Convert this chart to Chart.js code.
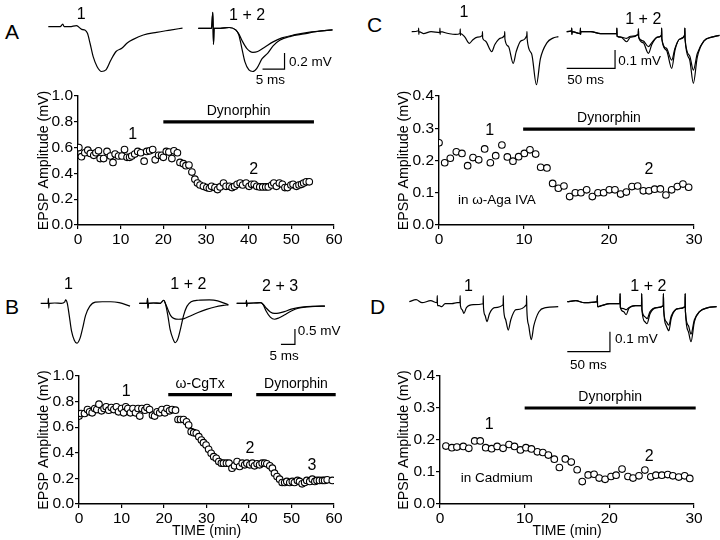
<!DOCTYPE html>
<html>
<head>
<meta charset="utf-8">
<script src="https://cdn.jsdelivr.net/npm/chart.js@4"></script>
<style>
  body { margin: 0; width: 720px; height: 540px; position: relative; background: #fff; overflow: hidden;
         font-family: "Liberation Sans", Arial, sans-serif; }
  canvas { position: absolute; }
  .panel { position: absolute; font-size: 21px; line-height: 1; }
</style>
</head>
<body>
<div class="panel" style="left:5px;top:21px">A</div>
<div class="panel" style="left:5px;top:296px">B</div>
<div class="panel" style="left:367px;top:14px">C</div>
<div class="panel" style="left:370px;top:296px">D</div>
<script>
// ---- time course data (min, mV) ----
const aTime = [0.2,0.8,1.6,2.3,2.9,3.7,4.2,4.8,5.2,6.0,6.8,7.6,8.2,8.7,9.5,
  10.3,10.9,11.5,12.1,12.6,13.3,14.0,14.7,15.5,16.1,16.8,17.5,18.1,18.9,19.6,
  20.0,20.7,21.3,22.0,22.5,23.3,23.9,24.7,25.3,26.0,26.7,27.4,28.0,28.6,29.4,
  30.2,30.8,31.3,32.1,32.7,33.3,34.1,34.7,35.5,36.1,36.7,37.3,38.0,38.6,39.4,
  40.1,40.7,41.3,41.9,42.6,43.3,44.0,44.6,45.4,45.9,46.5,47.2,47.9,48.5,49.1,49.9,
  50.4,51.2,51.8,52.4,52.9,53.5,54.2];
const aAmp = [0.60,0.53,0.56,0.58,0.555,0.54,0.56,0.575,0.515,0.515,0.57,0.535,0.485,0.55,0.535,
  0.535,0.585,0.525,0.525,0.535,0.55,0.57,0.56,0.495,0.57,0.575,0.585,0.505,0.54,0.54,
  0.525,0.57,0.565,0.515,0.575,0.56,0.485,0.475,0.46,0.465,0.41,0.355,0.325,0.31,0.30,
  0.29,0.285,0.30,0.29,0.275,0.295,0.325,0.30,0.30,0.29,0.30,0.315,0.325,0.31,0.325,
  0.30,0.315,0.315,0.30,0.295,0.295,0.295,0.295,0.31,0.325,0.30,0.325,0.315,0.29,0.29,0.31,
  0.315,0.30,0.31,0.315,0.325,0.335,0.335];

const bTime = [0.0,0.5,1.3,2.0,2.5,3.1,3.7,4.2,4.7,5.3,
  5.9,6.4,7.0,7.6,8.2,8.8,9.3,10.0,10.5,11.0,
  11.5,12.1,12.7,13.3,13.9,14.3,14.8,15.5,16.0,16.6,
  17.3,17.8,18.4,19.0,19.5,20.2,20.7,21.3,21.9,22.7,
  23.3,23.9,24.6,25.3,25.8,26.4,27.0,27.6,28.2,28.8,
  29.3,29.9,30.5,31.1,31.7,32.3,32.9,33.5,34.0,34.7,
  35.3,36.0,36.6,37.2,37.8,38.4,39.0,39.5,40.2,40.8,
  41.3,41.9,42.5,43.1,43.7,44.2,44.9,45.5,46.0,46.6,
  47.2,47.8,48.4,48.9,49.6,50.2,50.7,51.4,51.9,52.5,
  53.1,53.6,54.3,54.9,55.5,56.0,56.6,57.3,57.8,58.4,59.6];
const bAmp = [0.687,0.707,0.707,0.738,0.72,0.712,0.746,0.738,0.78,0.728,
  0.746,0.759,0.733,0.754,0.738,0.759,0.72,0.746,0.712,0.759,
  0.746,0.712,0.746,0.712,0.746,0.687,0.746,0.733,0.754,0.738,
  0.694,0.687,0.72,0.712,0.738,0.712,0.746,0.728,0.738,0.733,
  0.66,0.66,0.66,0.642,0.617,0.565,0.557,0.552,0.526,0.50,
  0.479,0.461,0.427,0.396,0.37,0.357,0.332,0.319,0.319,0.319,
  0.319,0.28,0.298,0.332,0.293,0.319,0.306,0.319,0.306,0.319,
  0.298,0.314,0.306,0.319,0.319,0.314,0.298,0.28,0.241,0.215,
  0.194,0.168,0.168,0.176,0.168,0.176,0.168,0.184,0.176,0.158,
  0.168,0.184,0.176,0.194,0.176,0.184,0.184,0.184,0.184,0.189,0.184];

const cTime = [0,0.67,1.33,2.04,2.7,3.37,4.0,4.67,5.37,6.04,6.67,7.4,8.04,8.7,9.37,
  10.04,10.7,11.37,11.96,12.7,13.37,14.04,14.7,15.37,16.04,16.7,17.37,18.04,18.7,19.37,
  20.04,20.7,21.37,22.04,22.7,23.37,24.04,24.7,25.37,26.04,26.7,27.37,28.04,28.7,29.37];
const cAmp = [0.255,0.193,0.207,0.227,0.222,0.184,0.209,0.202,0.236,0.193,0.215,0.248,0.211,0.198,0.212,
  0.222,0.233,0.220,0.179,0.177,0.129,0.114,0.121,0.088,0.100,0.100,0.109,0.088,0.100,0.100,
  0.109,0.109,0.096,0.102,0.119,0.121,0.106,0.106,0.111,0.112,0.093,0.109,0.119,0.127,0.117];

const dTime = [0.7,1.4,2.0,2.75,3.4,4.1,4.75,5.4,6.1,6.75,7.45,8.15,8.8,9.5,10.15,
  10.8,11.5,12.15,12.8,13.5,14.1,14.8,15.5,16.2,16.8,17.5,18.2,18.8,19.5,20.2,
  20.8,21.5,22.2,22.8,23.5,24.2,24.9,25.5,26.2,26.9,27.5,28.2,28.9,29.5];
const dAmp = [0.181,0.176,0.178,0.180,0.174,0.197,0.197,0.176,0.173,0.180,0.174,0.186,0.180,0.169,0.176,
  0.172,0.163,0.161,0.153,0.140,0.114,0.141,0.131,0.107,0.070,0.091,0.093,0.081,0.077,0.086,
  0.090,0.109,0.086,0.081,0.088,0.106,0.085,0.090,0.090,0.092,0.088,0.084,0.088,0.080];

// drug application bars (min)
const aDrugs = ['Dynorphin'], aDrugOn = [20], aDrugOff = [55.3];
const bDrugs = ['\u03c9-CgTx', 'Dynorphin'], bDrugOn = [21, 41.7], bDrugOff = [36, 60.4];
const cDrugs = ['Dynorphin'], cDrugOn = [9.9], cDrugOff = [30.1];
const dDrugs = ['Dynorphin'], dDrugOn = [10], dDrugOff = [30.2];

// ---- sample traces ([ms, mV] relative to baseline) ----
const a1Trace = [[0,0],[2.7,0],[3.3,0.033],[3.6,0],[4.9,0],[6.4,0.013],[7.6,-0.033],[8.3,-0.042],[8.9,-0.083],
  [9.5,-0.21],[10.2,-0.375],[11.1,-0.5],[12.1,-0.56],[13.1,-0.54],[14.2,-0.42],[15.4,-0.31],[16.7,-0.27],
  [18.0,-0.2],[19.3,-0.158],[21.6,-0.104],[24.6,-0.07],[27.7,-0.042],[30.5,-0.017]];
const a12Trace1 = [[0,0],[3.0,0],[3.3,0.2],[3.45,-0.2],[3.6,0],[5,0],[7,0.01],[8.5,-0.02],[9.2,-0.08],
  [9.9,-0.25],[10.6,-0.42],[11.5,-0.52],[12.4,-0.54],[13.3,-0.5],[14.5,-0.38],[15.8,-0.31],[17,-0.22],
  [18.5,-0.15],[21,-0.1],[24,-0.07],[27,-0.04],[30.5,-0.02]];
const a12Trace2 = [[0,0],[3.0,0],[3.3,0.2],[3.45,-0.2],[3.6,0],[5,0],[7,0.01],[8.5,-0.02],[9.2,-0.07],
  [10,-0.16],[11,-0.25],[12.4,-0.30],[13.5,-0.29],[15,-0.24],[17,-0.17],[19,-0.12],[22,-0.08],[25,-0.05],[30.5,-0.02]];

const b1Trace = [[0,0],[2.6,0],[2.75,0.16],[2.9,-0.16],[3.05,0],[5,0.01],[7.3,0],[8.6,0.05],[8.9,0.11],[9.5,0],
  [10.2,-0.4],[11.0,-0.9],[12.0,-1.2],[12.9,-1.3],[14.0,-1.15],[15.0,-0.8],[16.0,-0.4],[17.5,-0.1],
  [19.5,0.04],[22,0.05],[25,0.05],[28,0.02],[31.9,-0.09]];
const b12Trace1 = [[0,0],[2.8,0],[2.95,0.16],[3.1,-0.16],[3.25,0],[5,0.01],[7.5,0],[8.7,0.1],[9.3,0],
  [10.2,-0.4],[11,-0.85],[12,-1.15],[12.8,-1.28],[13.8,-1.15],[14.8,-0.8],[15.8,-0.4],[17,-0.1],
  [18.5,0.05],[21,0.1],[25,0.11],[28,0.08],[31.8,-0.05]];
const b12Trace2 = [[0,0],[2.8,0],[2.95,0.16],[3.1,-0.16],[3.25,0],[5,0.01],[7.5,0],[8.7,0.1],[9.3,0],
  [10.2,-0.2],[11.2,-0.4],[12.5,-0.5],[14,-0.52],[16,-0.5],[18,-0.42],[21,-0.3],[24,-0.2],[27,-0.12],
  [30,-0.07],[31.8,-0.05]];
const b23Trace2 = [[0,0],[3.4,0],[3.5,0.1],[3.6,-0.1],[3.7,0],[6,0.01],[8.5,0.02],[9.5,-0.05],[10.5,-0.25],
  [12,-0.45],[13.5,-0.52],[15,-0.48],[17,-0.38],[19.5,-0.25],[22,-0.16],[25,-0.12],[28,-0.1],[31.5,-0.09]];
const b23Trace3 = [[0,0],[3.4,0],[3.5,0.1],[3.6,-0.1],[3.7,0],[6,0.01],[8.5,0.02],[9.5,-0.04],[10.5,-0.15],
  [12,-0.28],[13.5,-0.33],[15,-0.32],[17,-0.27],[19.5,-0.19],[22,-0.14],[25,-0.11],[28,-0.1],[31.5,-0.09]];

const c1Trace = [[0,0],[7,0.005],[7.2,0.02],[7.4,-0.015],[7.6,0],[12,-0.01],[20,0],[29,-0.005],[29.2,0.02],
  [29.4,-0.015],[29.6,0],[38,-0.01],[45,-0.015],[50,-0.01],[50.2,0.015],[50.4,-0.02],[50.6,-0.01],[55,-0.03],
  [59.7,-0.064],[63,-0.045],[68,-0.03],[73,-0.02],[73.2,0.0],[73.4,-0.035],[76,-0.05],[82.8,-0.109],[86,-0.07],
  [92,-0.035],[96,-0.02],[96.2,0.0],[96.4,-0.04],[100,-0.08],[105,-0.173],[108,-0.11],[113,-0.05],[119,-0.02],
  [119.2,0],[119.4,-0.04],[124,-0.12],[129,-0.29],[133,-0.15],[140,-0.06],[146,-0.035],[151.7,-0.027]];
const c12Trace1 = [[0,0],[5,0.005],[5.2,0.02],[5.4,-0.015],[5.6,0],[14,-0.01],[14.2,0.02],[14.4,-0.015],
  [14.6,0],[25,0],[35,-0.01],[45,-0.01],[51.7,-0.01],[51.9,0.02],[52.1,-0.025],[56,-0.03],[62,-0.055],
  [66,-0.03],[74,-0.015],[74.2,0.015],[74.4,-0.03],[79,-0.06],[84.5,-0.118],[88,-0.07],[94,-0.03],[98,-0.02],
  [98.2,0.02],[98.4,-0.04],[103,-0.1],[108.6,-0.2],[112,-0.1],[117,-0.04],[122,-0.02],[122.2,0.02],
  [122.4,-0.04],[127,-0.15],[131,-0.282],[135,-0.14],[142,-0.05],[150,-0.03],[158,-0.02]];
const c12Trace2 = [[0,0],[5,0.005],[5.2,0.02],[5.4,-0.015],[5.6,0],[14,-0.01],[14.2,0.02],[14.4,-0.015],
  [14.6,0],[25,0],[35,-0.01],[45,-0.01],[51.7,-0.01],[51.9,0.02],[52.1,-0.025],[56,-0.03],[62,-0.036],
  [66,-0.025],[74,-0.015],[74.2,0.015],[74.4,-0.03],[79,-0.05],[84.5,-0.082],[88,-0.06],[94,-0.03],[98,-0.02],
  [98.2,0.02],[98.4,-0.04],[103,-0.09],[108.6,-0.155],[112,-0.09],[117,-0.04],[122,-0.02],[122.2,0.02],
  [122.4,-0.04],[127,-0.13],[131,-0.21],[135,-0.12],[142,-0.05],[150,-0.03],[158,-0.02]];

const d1Trace = [[0,0],[8,0.01],[15,-0.005],[25,0.005],[32.5,-0.005],[32.8,0.03],[33.1,-0.02],[35,-0.02],
  [38,-0.025],[42,-0.01],[50,-0.01],[56,-0.005],[59.4,-0.005],[59.6,0.03],[59.9,-0.02],[62,-0.04],[64,-0.058],
  [67,-0.03],[75,-0.015],[86.5,-0.01],[86.7,0.03],[87,-0.03],[89,-0.07],[91,-0.1],[94,-0.06],[100,-0.03],
  [110,-0.015],[110.2,0.03],[110.5,-0.03],[113,-0.09],[116,-0.142],[119,-0.09],[125,-0.04],[137.3,-0.015],
  [137.5,0.03],[137.8,-0.04],[140,-0.12],[143,-0.19],[146,-0.12],[152,-0.05],[160,-0.03],[174.6,-0.025]];
const d12Trace1 = [[0,0],[10,0.005],[20,-0.005],[35,0],[35.2,0.03],[35.5,-0.025],[40,-0.02],[50,-0.01],
  [61.7,-0.01],[61.9,0.04],[62.2,-0.03],[66,-0.05],[69,-0.065],[72,-0.035],[80,-0.02],[87,-0.02],[87.2,0.04],
  [87.5,-0.04],[91,-0.1],[93.5,-0.11],[97,-0.06],[105,-0.03],[112.5,-0.02],[112.7,0.04],[113,-0.04],[116,-0.12],
  [119,-0.145],[122,-0.08],[130,-0.035],[138,-0.025],[138.2,0.04],[138.5,-0.05],[142,-0.15],[145,-0.2],
  [149,-0.1],[155,-0.05],[165,-0.03],[175,-0.025]];
const d12Trace2 = [[0,0],[10,0.005],[20,-0.005],[35,0],[35.2,0.03],[35.5,-0.025],[40,-0.02],[50,-0.01],
  [61.7,-0.01],[61.9,0.04],[62.2,-0.03],[66,-0.035],[69,-0.04],[72,-0.03],[80,-0.02],[87,-0.02],[87.2,0.04],
  [87.5,-0.04],[91,-0.075],[93.5,-0.085],[97,-0.05],[105,-0.03],[112.5,-0.02],[112.7,0.04],[113,-0.04],
  [116,-0.1],[119,-0.117],[122,-0.07],[130,-0.035],[138,-0.025],[138.2,0.04],[138.5,-0.05],[142,-0.12],
  [145,-0.162],[149,-0.09],[155,-0.05],[165,-0.03],[175,-0.025]];

const FONT = '"Liberation Sans", Arial, sans-serif';

// draws text labels at data coordinates
Chart.register({
  id: 'notes',
  afterDatasetsDraw(chart, args, opts) {
    const ctx = chart.ctx, xs = chart.scales.x, ys = chart.scales.y;
    ctx.save();
    ctx.fillStyle = '#000';
    ctx.textBaseline = 'middle';
    (opts.items || []).forEach(n => {
      ctx.font = (n.size || 15) + 'px ' + FONT;
      ctx.textAlign = n.align || 'center';
      ctx.fillText(n.text, xs.getPixelForValue(n.x), ys.getPixelForValue(n.y));
    });
    ctx.restore();
  }
});

function addCanvas(l, t, w, h) {
  const c = document.createElement('canvas');
  c.width = w; c.height = h;
  c.style.left = l + 'px'; c.style.top = t + 'px';
  c.style.width = w + 'px'; c.style.height = h + 'px';
  document.body.appendChild(c);
  return c;
}

function timeCourse(box, yAxisW, xAxisH, pad, xMax, yMax, yStep, times, amps, drugs, on, off, barY, notes, xTitle) {
  const c = addCanvas(box.l, box.t, box.w, box.h);
  const datasets = [{
    data: times.map((t, i) => ({ x: t, y: amps[i] })),
    pointRadius: 3.3, pointBorderWidth: 1.1, pointBackgroundColor: '#fff', pointBorderColor: '#000',
    showLine: false
  }];
  drugs.forEach((name, i) => {
    datasets.push({
      data: [{ x: on[i], y: barY }, { x: off[i], y: barY }],
      showLine: true, borderColor: '#000', borderWidth: 3.2, pointRadius: 0, clip: false
    });
    notes.push({ x: (on[i] + off[i]) / 2, y: barY + yMax * 0.085, text: name, size: 14 });
  });
  const axisCommon = {
    type: 'linear',
    grid: { drawOnChartArea: false, drawTicks: true, tickLength: 4, color: '#000', lineWidth: 1.2 },
    border: { color: '#000', width: 1.4 }
  };
  new Chart(c, {
    type: 'scatter',
    data: { datasets },
    options: {
      responsive: false, animation: false,
      layout: { padding: pad },
      plugins: { legend: { display: false }, tooltip: { enabled: false }, notes: { items: notes } },
      scales: {
        x: Object.assign({}, axisCommon, {
          min: 0, max: xMax,
          ticks: { stepSize: 10, color: '#000', font: { size: 15.5, family: FONT }, padding: 1, maxRotation: 0 },
          title: { display: !!xTitle, text: xTitle || '', color: '#000', font: { size: 14, family: FONT },
                   padding: { top: 0, bottom: 0 } },
          afterFit: s => { s.height = xAxisH; }
        }),
        y: Object.assign({}, axisCommon, {
          min: 0, max: yMax,
          ticks: { stepSize: yStep, color: '#000', font: { size: 15.5, family: FONT }, padding: 1,
                   callback: v => v.toFixed(1) },
          title: { display: true, text: 'EPSP Amplitude (mV)', color: '#000', font: { size: 14.2, family: FONT },
                   padding: { top: 0, bottom: 0 } },
          afterFit: s => { s.width = yAxisW; }
        })
      }
    }
  });
}

// box: canvas in page px; origin: page px of trace start/baseline; sx px per ms, sy px per mV
function traceChart(box, origin, sx, sy, traces, bar, notes) {
  const c = addCanvas(box.l, box.t, box.w, box.h);
  const datasets = traces.map(tr => ({
    data: tr.map(p => ({ x: p[0], y: p[1] })),
    showLine: true, borderColor: '#000', borderWidth: 1.2, pointRadius: 0,
    cubicInterpolationMode: 'monotone', clip: false
  }));
  if (bar) {
    datasets.push({
      data: [{ x: bar.x0, y: bar.y0 }, { x: bar.x0 + bar.ms, y: bar.y0 }, { x: bar.x0 + bar.ms, y: bar.y0 + bar.mv }],
      showLine: true, borderColor: '#000', borderWidth: 1.2, pointRadius: 0, tension: 0, clip: false
    });
  }
  new Chart(c, {
    type: 'scatter',
    data: { datasets },
    options: {
      responsive: false, animation: false,
      layout: { padding: 0 },
      plugins: { legend: { display: false }, tooltip: { enabled: false }, notes: { items: notes } },
      scales: {
        x: { type: 'linear', display: false, min: (box.l - origin.x) / sx, max: (box.l + box.w - origin.x) / sx },
        y: { type: 'linear', display: false, min: (origin.y - box.t - box.h) / sy, max: (origin.y - box.t) / sy }
      }
    }
  });
}

// ---- Panel A ----
traceChart({ l: 40, t: 0, w: 150, h: 85 }, { x: 48.3, y: 26.7 }, 4.4, 80, [a1Trace], null,
  [{ x: 7.5, y: 0.15, text: '1', size: 16 }]);
traceChart({ l: 190, t: 0, w: 155, h: 88 }, { x: 198.3, y: 28.3 }, 4.4, 80, [a12Trace1, a12Trace2],
  { x0: 14.6, y0: -0.51, ms: 5, mv: 0.2 },
  [{ x: 11.1, y: 0.16, text: '1 + 2', size: 16 },
   { x: 20.6, y: -0.425, text: '0.2 mV', size: 13.5, align: 'left' },
   { x: 16.4, y: -0.65, text: '5 ms', size: 13.5 }]);
timeCourse({ l: 0, t: 85, w: 350, h: 178 }, 42, 38, { left: 36, top: 11, right: 16, bottom: 0 },
  60, 1.0, 0.2, aTime, aAmp, aDrugs, aDrugOn, aDrugOff, 0.8,
  [{ x: 12.8, y: 0.70, text: '1', size: 16 }, { x: 41.2, y: 0.43, text: '2', size: 16 }]);

// ---- Panel B ----
traceChart({ l: 35, t: 270, w: 100, h: 90 }, { x: 40.7, y: 303.3 }, 2.8, 30.7, [b1Trace], null,
  [{ x: 9.9, y: 0.6, text: '1', size: 16 }]);
traceChart({ l: 135, t: 270, w: 100, h: 90 }, { x: 139.3, y: 303.3 }, 2.8, 30.7, [b12Trace1, b12Trace2], null,
  [{ x: 17.5, y: 0.6, text: '1 + 2', size: 16 }]);
traceChart({ l: 232, t: 270, w: 120, h: 95 }, { x: 236.7, y: 303.3 }, 2.8, 30.7, [b23Trace2, b23Trace3],
  { x0: 15.8, y0: -1.34, ms: 5, mv: 0.5 },
  [{ x: 15.5, y: 0.54, text: '2 + 3', size: 16 },
   { x: 21.8, y: -0.9, text: '0.5 mV', size: 13.5, align: 'left' },
   { x: 16.9, y: -1.74, text: '5 ms', size: 13.5 }]);
timeCourse({ l: 0, t: 362, w: 350, h: 178 }, 43, 36, { left: 36, top: 14, right: 16, bottom: 0 },
  60, 1.0, 0.2, bTime, bAmp, bDrugs, bDrugOn, bDrugOff, 0.855,
  [{ x: 11.1, y: 0.875, text: '1', size: 16 }, { x: 40.2, y: 0.435, text: '2', size: 16 },
   { x: 54.8, y: 0.298, text: '3', size: 16 }], 'TIME (min)');

// ---- Panel C ----
traceChart({ l: 405, t: 0, w: 200, h: 95 }, { x: 411.7, y: 31.7 }, 0.967, 183, [c1Trace], null,
  [{ x: 54, y: 0.104, text: '1', size: 16 }]);
traceChart({ l: 560, t: 0, w: 160, h: 95 }, { x: 566.7, y: 31.7 }, 0.967, 183, [c12Trace1, c12Trace2],
  { x0: 0, y0: -0.2, ms: 50, mv: 0.1 },
  [{ x: 79.2, y: 0.064, text: '1 + 2', size: 16 },
   { x: 53.4, y: -0.164, text: '0.1 mV', size: 13.5, align: 'left' },
   { x: 19.6, y: -0.264, text: '50 ms', size: 13.5 }]);
timeCourse({ l: 360, t: 85, w: 350, h: 178 }, 43, 38, { left: 36, top: 11, right: 16, bottom: 0 },
  30, 0.4, 0.1, cTime, cAmp, cDrugs, cDrugOn, cDrugOff, 0.297,
  [{ x: 5.96, y: 0.2925, text: '1', size: 16 }, { x: 24.7, y: 0.173, text: '2', size: 16 },
   { x: 6.8, y: 0.0775, text: 'in \u03c9-Aga IVA', size: 13.5 }]);

// ---- Panel D ----
traceChart({ l: 403, t: 270, w: 200, h: 90 }, { x: 409.3, y: 301.7 }, 0.853, 200, [d1Trace], null,
  [{ x: 69.2, y: 0.075, text: '1', size: 16 }]);
traceChart({ l: 562, t: 270, w: 158, h: 105 }, { x: 567.3, y: 301.7 }, 0.853, 200, [d12Trace1, d12Trace2],
  { x0: 0, y0: -0.25, ms: 50, mv: 0.1 },
  [{ x: 95, y: 0.075, text: '1 + 2', size: 16 },
   { x: 55.9, y: -0.19, text: '0.1 mV', size: 13.5, align: 'left' },
   { x: 24.6, y: -0.317, text: '50 ms', size: 13.5 }]);
timeCourse({ l: 360, t: 362, w: 350, h: 178 }, 44, 36, { left: 36, top: 14, right: 16, bottom: 0 },
  30, 0.4, 0.1, dTime, dAmp, dDrugs, dDrugOn, dDrugOff, 0.30,
  [{ x: 5.8, y: 0.247, text: '1', size: 16 }, { x: 24.7, y: 0.148, text: '2', size: 16 },
   { x: 6.7, y: 0.079, text: 'in Cadmium', size: 13.5 }], 'TIME (min)');
</script>
</body>
</html>
